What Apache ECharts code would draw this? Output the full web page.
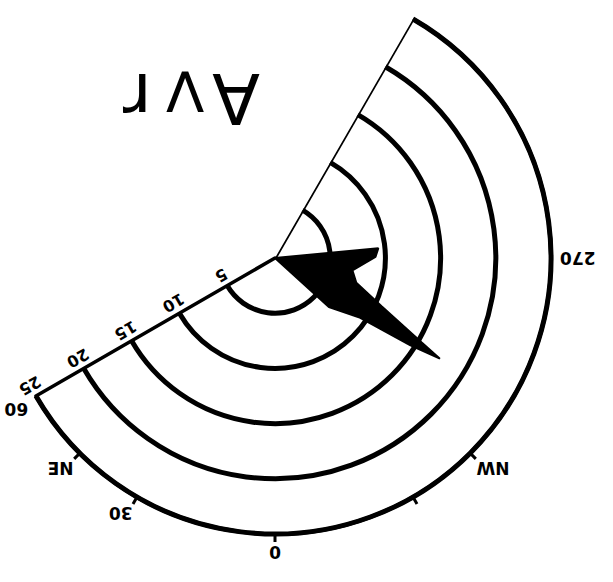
<!DOCTYPE html>
<html>
<head>
<meta charset="utf-8">
<script src="https://cdn.jsdelivr.net/npm/echarts@6/dist/echarts.min.js"></script>
<style>
html,body{margin:0;padding:0;background:#fff;}
#chart{width:613px;height:582px;transform:rotate(180deg);}
</style>
</head>
<body>
<div id="chart"></div>
<script>
// Hand-drawn polar diagram (scan is upside down; page is rotated 180deg to match)
const titleChars = ['A', 'V', 'r'];
// radial scale (rings)
const ringValues = [5, 10, 15, 20, 25];
// angle labels: axis value = -compass angle
const angleLabelValues = [-60, -45, -30, 0, 45, 90];
const angleLabelTexts  = ['60', 'NE', '30', '0', 'NW', '270'];
const angleTickValues = [-45, -30, 0, 30, 45];
// sector limits (axis values)
const sectorStart = -60;
const sectorEnd = 150;
// black area shape
const shapeAngles = [95.4, 95.4, 90.6, 81, 73, 65.6, 60.1, 58.6, 57.2, 54.8, 47.7, 47.7];
const shapeRadii  = [0, 9.4, 9.1, 7.1, 7.7, 10.6, 15.3, 17.5, 14.6, 9.3, 6.6, 0];
// second straight edge of the sector
const edgeRadii = [0, 25];

const labelMap = {};
angleLabelValues.forEach((v, i) => { labelMap[v] = angleLabelTexts[i]; });

const chart = echarts.init(document.getElementById('chart'), null, {renderer: 'svg'});
const font = '"DejaVu Sans", sans-serif';
chart.setOption({
  animation: false,
  backgroundColor: '#fff',
  title: {
    text: titleChars.map((c, i) => '{c' + i + '|' + c + '}').join(''),
    left: 348, top: 444,
    textStyle: {
      fontFamily: font, fontSize: 52, fontWeight: 'normal', color: '#000',
      rich: {
        c0: {fontFamily: font, fontSize: 70, fontWeight: 'normal', color: '#000', padding: [0, 8, 0, 0], verticalAlign: 'bottom'},
        c1: {fontFamily: font, fontSize: 56, fontWeight: 'normal', color: '#000', padding: [0, 14, 0, 0], verticalAlign: 'bottom'},
        c2: {fontFamily: font, fontSize: 70, fontWeight: 'normal', color: '#000', verticalAlign: 'bottom'}
      }
    }
  },
  polar: {center: [338, 324], radius: 276},
  angleAxis: {
    type: 'value', min: sectorStart, max: sectorEnd, interval: 15,
    startAngle: 30, endAngle: 240, clockwise: false,
    axisLine: {show: true, lineStyle: {color: '#000', width: 4}},
    axisTick: {show: true, customValues: angleTickValues, length: 8, lineStyle: {color: '#000', width: 3}},
    axisLabel: {
      show: true, customValues: angleLabelValues, margin: 9,
      fontFamily: font, fontSize: 17, fontWeight: 'bold', color: '#000',
      formatter: v => labelMap[v] !== undefined ? labelMap[v] : ''
    },
    splitLine: {show: false}
  },
  radiusAxis: {
    type: 'value', min: 0, max: 25, interval: 5,
    axisLine: {show: true, lineStyle: {color: '#000', width: 3.5}},
    axisTick: {show: false},
    axisLabel: {
      show: true, rotate: 30, margin: -20,
      fontFamily: font, fontSize: 16, fontWeight: 'bold', color: '#000',
      formatter: v => v === 0 ? '' : String(v)
    },
    splitLine: {show: true, lineStyle: {color: '#000', width: 5}}
  },
  series: [
    {
      type: 'line', coordinateSystem: 'polar', symbol: 'none', smooth: false,
      data: shapeRadii.map((r, i) => [r, shapeAngles[i]]),
      lineStyle: {color: '#000', width: 2},
      areaStyle: {color: '#000', opacity: 1},
      z: 5
    },
    {
      type: 'line', coordinateSystem: 'polar', symbol: 'none',
      data: edgeRadii.map(r => [r, sectorEnd]),
      lineStyle: {color: '#000', width: 3.5},
      z: 5
    }
  ]
});
</script>
</body>
</html>
